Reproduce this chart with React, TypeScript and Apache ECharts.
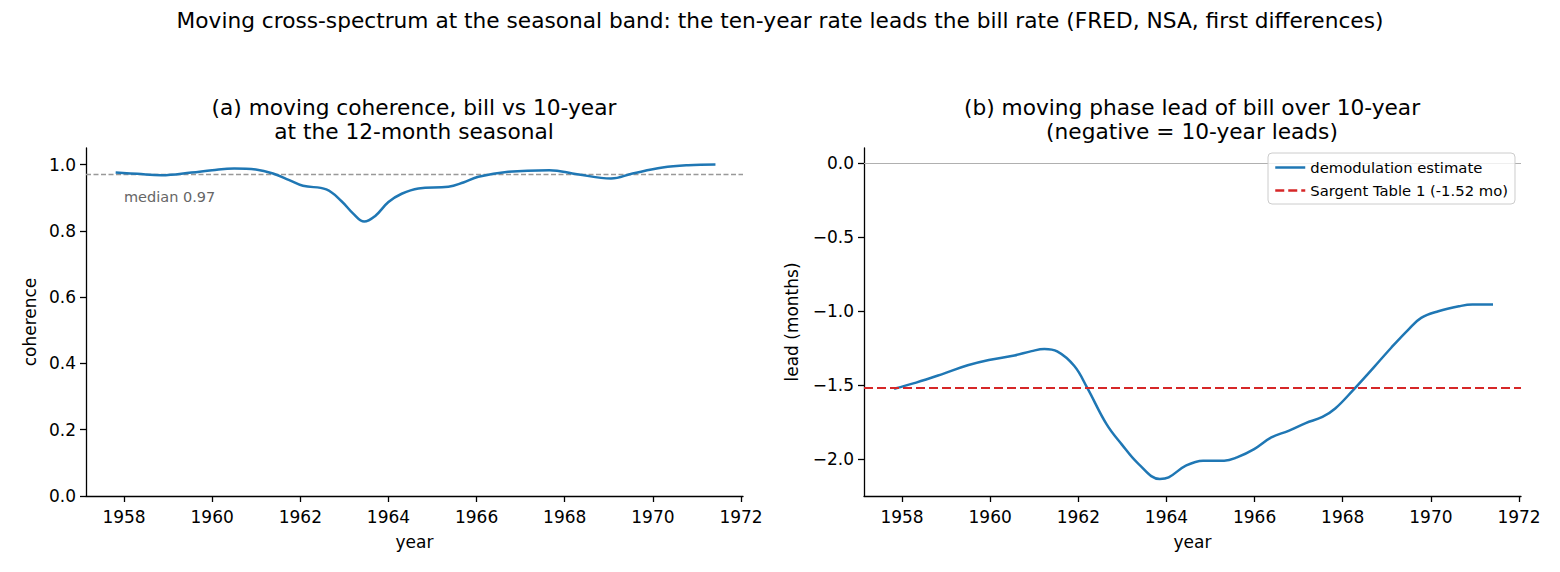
import React, { useEffect, useRef } from "react";
import * as echarts from "echarts";

const FONT = "DejaVu Sans";

// x range shared by both panels
const X_MIN = 1957.137;
const X_MAX = 1972.045;
const xTicks = [1958, 1960, 1962, 1964, 1966, 1968, 1970, 1972];

// panel (a): moving coherence at the 12-month seasonal
const cohYears = [
  1957.81, 1958.3, 1958.85, 1959.53, 1960.0, 1960.5, 1960.99, 1961.38, 1961.75, 1962.06,
  1962.59, 1962.93, 1963.2, 1963.45, 1963.7, 1964.0, 1964.3, 1964.68, 1965.36, 1965.7,
  1966.04, 1966.72, 1967.65, 1968.28, 1969.05, 1969.54, 1970.22, 1970.8, 1971.42,
];
const coherence = [
  0.976, 0.972, 0.968, 0.976, 0.983, 0.988, 0.985, 0.973, 0.953, 0.936,
  0.925, 0.89, 0.852, 0.828, 0.845, 0.887, 0.912, 0.928, 0.933, 0.946,
  0.963, 0.978, 0.983, 0.971, 0.958, 0.973, 0.991, 0.998, 1.0,
];
const cohYTicks = [0, 0.2, 0.4, 0.6, 0.8, 1.0];
const medianCoherence = 0.969;

// panel (b): moving phase lead of bill over 10-year (months)
const leadYears = [
  1957.82, 1958.32, 1958.9, 1959.49, 1959.97, 1960.55, 1960.94, 1961.23, 1961.52, 1961.91,
  1962.2, 1962.64, 1962.98, 1963.37, 1963.85, 1964.05, 1964.44, 1964.83, 1965.31, 1965.6,
  1965.99, 1966.38, 1966.77, 1967.16, 1967.54, 1967.83, 1968.22, 1968.71, 1969.1, 1969.49,
  1969.78, 1970.17, 1970.65, 1970.94, 1971.41,
];
const lead = [
  -1.524, -1.483, -1.427, -1.366, -1.33, -1.299, -1.27, -1.256, -1.272, -1.371,
  -1.517, -1.764, -1.899, -2.034, -2.135, -2.124, -2.045, -2.011, -2.011, -1.989,
  -1.933, -1.854, -1.809, -1.757, -1.715, -1.658, -1.539, -1.378, -1.247, -1.124,
  -1.045, -1.0, -0.966, -0.955, -0.955,
];
const leadYTicks = [-2.0, -1.5, -1.0, -0.5, 0.0];
const sargentLead = -1.52;

const BLUE = "#1f77b4";
const RED = "#d62728";
const TICK_FS = 17;
const TITLE_FS = 21.7;

function pairs(xs: number[], ys: number[]) {
  return xs.map((x, i) => [x, ys[i]]);
}

function fmtY(v: number) {
  const s = Math.abs(v).toFixed(1);
  return v < 0 ? "\u2212" + s : s;
}

function xAxis(gridIndex: number) {
  return {
    type: "value",
    gridIndex,
    min: X_MIN,
    max: X_MAX,
    name: "year",
    nameLocation: "middle",
    nameGap: 37,
    nameTextStyle: { fontSize: TICK_FS, color: "#000", fontFamily: FONT },
    axisLine: { show: true, onZero: false, lineStyle: { color: "#000", width: 1.3 } },
    axisTick: { show: true, length: 6, customValues: xTicks, lineStyle: { color: "#000", width: 1.3 } },
    axisLabel: {
      customValues: xTicks,
      fontSize: TICK_FS,
      color: "#000",
      fontFamily: FONT,
      margin: 12,
      formatter: (v: number) => String(Math.round(v)),
    },
    splitLine: { show: false },
  };
}

function yAxis(gridIndex: number, min: number, max: number, ticks: number[], name: string, gap: number) {
  return {
    type: "value",
    gridIndex,
    min,
    max,
    name,
    nameLocation: "middle",
    nameGap: gap,
    nameRotate: 90,
    nameTextStyle: { fontSize: TICK_FS, color: "#000", fontFamily: FONT },
    axisLine: { show: true, onZero: false, lineStyle: { color: "#000", width: 1.3 } },
    axisTick: { show: true, length: 6, customValues: ticks, lineStyle: { color: "#000", width: 1.3 } },
    axisLabel: {
      customValues: ticks,
      fontSize: TICK_FS,
      color: "#000",
      fontFamily: FONT,
      margin: 10,
      formatter: (v: number) => fmtY(v),
    },
    splitLine: { show: false },
  };
}

export default function App() {
  const ref = useRef<HTMLDivElement>(null);
  useEffect(() => {
    if (!ref.current) return;
    const chart = echarts.init(ref.current, null, { renderer: "svg" });
    const option = {
      animation: false,
      textStyle: { fontFamily: FONT },
      grid: [
        { left: 86, top: 148, width: 657, height: 348 },
        { left: 864, top: 148, width: 657, height: 348 },
      ],
      xAxis: [xAxis(0), xAxis(1)],
      yAxis: [
        yAxis(0, 0, 1.05, cohYTicks, "coherence", 48),
        yAxis(1, -2.25, 0.104, leadYTicks, "lead (months)", 64),
      ],
      legend: {
        orient: "vertical",
        left: 1268,
        top: 153,
        itemWidth: 30,
        itemHeight: 14,
        itemGap: 8,
        padding: [7, 7, 6, 6],
        backgroundColor: "rgba(255,255,255,0.8)",
        borderColor: "#cccccc",
        borderWidth: 1,
        borderRadius: 4,
        itemStyle: { opacity: 0 },
        lineStyle: { width: 2.5 },
        textStyle: { fontSize: 14.8, color: "#000", fontFamily: FONT },
        data: ["demodulation estimate", "Sargent Table 1 (-1.52 mo)"],
      },
      graphic: [
        {
          type: "text",
          x: 780,
          y: 20,
          style: {
            text: "Moving cross-spectrum at the seasonal band: the ten-year rate leads the bill rate (FRED, NSA, first differences)",
            fontSize: TITLE_FS,
            fontFamily: FONT,
            fill: "#000",
            textAlign: "center",
            textVerticalAlign: "middle",
          },
        },
        {
          type: "text",
          x: 414,
          y: 119,
          style: {
            text: "(a) moving coherence, bill vs 10-year\nat the 12-month seasonal",
            fontSize: TITLE_FS,
            lineHeight: 24,
            fontFamily: FONT,
            fill: "#000",
            textAlign: "center",
            textVerticalAlign: "middle",
          },
        },
        {
          type: "text",
          x: 1192,
          y: 119,
          style: {
            text: "(b) moving phase lead of bill over 10-year\n(negative = 10-year leads)",
            fontSize: TITLE_FS,
            lineHeight: 24,
            fontFamily: FONT,
            fill: "#000",
            textAlign: "center",
            textVerticalAlign: "middle",
          },
        },
        {
          type: "text",
          x: 124,
          y: 197,
          style: {
            text: "median " + medianCoherence.toFixed(2),
            fontSize: 14.5,
            fontFamily: FONT,
            fill: "#666666",
            textAlign: "left",
            textVerticalAlign: "middle",
          },
        },
      ],
      series: [
        {
          type: "line",
          name: "coherence",
          xAxisIndex: 0,
          yAxisIndex: 0,
          data: pairs(cohYears, coherence),
          smooth: 0.4,
          symbol: "none",
          lineStyle: { color: BLUE, width: 2.5 },
          itemStyle: { color: BLUE },
          z: 3,
          markLine: {
            silent: true,
            symbol: ["none", "none"],
            label: { show: false },
            lineStyle: { color: "#999999", type: [5, 2.5], width: 1.3 },
            data: [{ yAxis: medianCoherence }],
            z: 2,
          },
        },
        {
          type: "line",
          name: "demodulation estimate",
          xAxisIndex: 1,
          yAxisIndex: 1,
          data: pairs(leadYears, lead),
          smooth: 0.4,
          symbol: "none",
          lineStyle: { color: BLUE, width: 2.5 },
          itemStyle: { color: BLUE },
          z: 3,
          markLine: {
            silent: true,
            symbol: ["none", "none"],
            label: { show: false },
            lineStyle: { color: "#b0b0b0", type: "solid", width: 1 },
            data: [{ yAxis: 0 }],
            z: 2,
          },
        },
        {
          type: "line",
          name: "Sargent Table 1 (-1.52 mo)",
          xAxisIndex: 1,
          yAxisIndex: 1,
          data: [],
          symbol: "none",
          lineStyle: { color: RED, width: 2.2, type: [9, 4] },
          itemStyle: { color: RED },
          markLine: {
            silent: true,
            symbol: ["none", "none"],
            label: { show: false },
            lineStyle: { color: RED, type: [9, 4], width: 2.2 },
            data: [{ yAxis: sargentLead }],
          },
        },
      ],
    };
    chart.setOption(option as any);
    return () => chart.dispose();
  }, []);
  return (
    <div
      ref={ref}
      style={{ position: "absolute", left: 0, top: 0, width: 1560, height: 572 }}
    />
  );
}
